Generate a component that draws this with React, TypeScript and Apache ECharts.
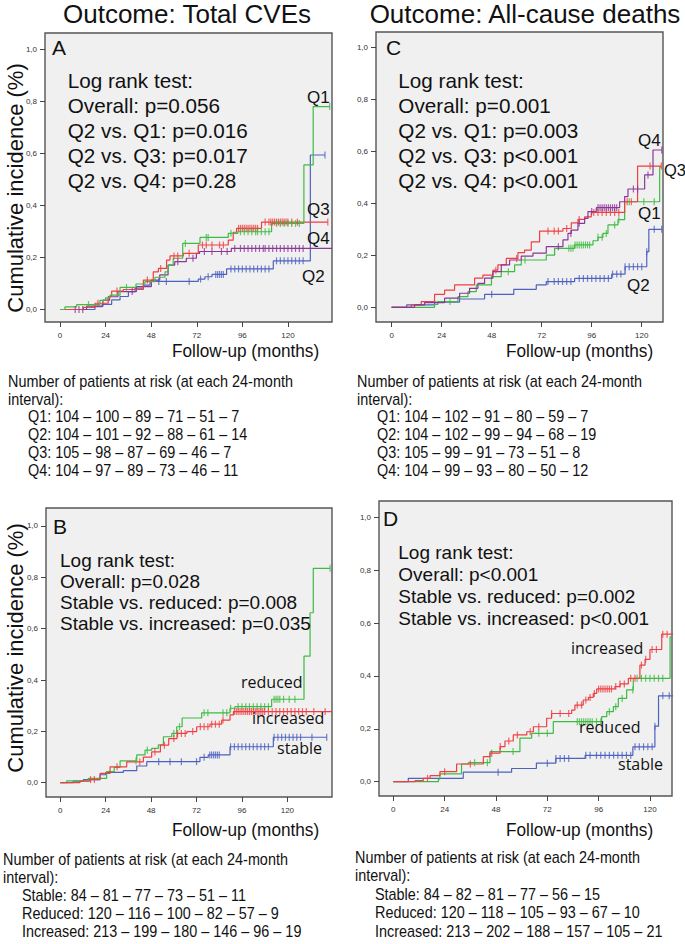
import React, { useEffect, useRef } from 'react';
import * as echarts from 'echarts';

// ---------- tick values ----------
const xTicks = [0, 24, 48, 72, 96, 120];
const yTicks = [0, 0.2, 0.4, 0.6, 0.8, 1.0];

// ---------- Panel A: Total CVEs by quartile ----------
const aQ1Times = [0, 2.6, 8.8, 21, 24, 26.3, 31.6, 40, 44.7, 50, 55.3, 57, 59.6, 64.6, 73.7, 88.6, 93.6, 111.4, 128.4, 133.3, 142];
const aQ1Values = [0, 0.01, 0.019, 0.035, 0.045, 0.055, 0.085, 0.098, 0.107, 0.124, 0.145, 0.171, 0.197, 0.254, 0.277, 0.293, 0.299, 0.331, 0.556, 0.78, 0.78];
const aQ1Censored = [15, 35, 66, 77, 78, 90, 95, 97, 99, 101, 103, 104, 106, 108, 110, 114, 116, 118, 120, 122, 124, 126, 142];

const aQ2Times = [0, 18.4, 22.2, 27.2, 31.6, 36, 39.5, 43.9, 47.4, 72.8, 76.3, 80, 87.7, 112.3, 131.8, 139.5];
const aQ2Values = [0, 0.011, 0.02, 0.037, 0.05, 0.069, 0.082, 0.094, 0.108, 0.117, 0.126, 0.135, 0.156, 0.187, 0.594, 0.594];
const aQ2Censored = [52, 56, 68, 74, 78, 82, 83, 84, 85, 86, 90, 92, 94, 96, 98, 100, 102, 104, 106, 108, 110, 114, 116, 118, 120, 122, 124, 126, 128, 139.5];

const aQ3Times = [0, 12.3, 18.4, 25.4, 27.2, 33.3, 43.9, 49.1, 51.8, 56.1, 57.9, 64.9, 72.8, 88.6, 91.2, 93, 106.1, 141];
const aQ3Values = [0, 0.008, 0.024, 0.05, 0.071, 0.077, 0.113, 0.145, 0.158, 0.19, 0.206, 0.216, 0.248, 0.267, 0.297, 0.312, 0.336, 0.336];
const aQ3Censored = [20, 30, 46, 53, 60, 62, 68, 75, 77, 80, 84, 86, 94, 95, 96, 97, 98, 99, 100, 101, 102, 103, 104, 108, 110, 111, 112, 113, 114, 115, 116, 117, 118, 119, 120, 122, 125, 141];

const aQ4Times = [0, 14, 22.6, 26.1, 30.5, 40.2, 48.1, 52.5, 56.9, 60.4, 66.5, 71.8, 73.5, 90.2, 143.2];
const aQ4Values = [0, 0.013, 0.036, 0.049, 0.069, 0.088, 0.113, 0.133, 0.171, 0.184, 0.197, 0.216, 0.223, 0.235, 0.235];
const aQ4Censored = [8, 10, 12, 38, 62, 70, 76, 80, 85, 88, 92, 95, 97, 99, 101, 103, 105, 107, 108, 110, 112, 114, 116, 118, 120, 122, 124, 126, 128];

// ---------- Panel C: All-cause deaths by quartile ----------
const cQ1Times = [0, 20.6, 22.2, 31.8, 36.6, 40.6, 47.9, 52.6, 59, 62.2, 74.2, 78.2, 87.8, 96.6, 99, 101.4, 103.8, 108.6, 111.8, 128.6, 129.4];
const cQ1Values = [0, 0.011, 0.022, 0.041, 0.06, 0.086, 0.118, 0.137, 0.163, 0.182, 0.201, 0.227, 0.24, 0.256, 0.269, 0.284, 0.317, 0.337, 0.406, 0.54, 0.54];
const cQ1Censored = [28, 56, 64, 85, 86, 87, 88, 89, 90, 91, 92, 93, 94, 95, 99, 101, 103, 107, 109, 114, 121, 126];

const cQ2Times = [0, 7.2, 20.6, 32.6, 44.6, 58.6, 69.4, 74.2, 87.8, 105.6, 112, 122.4, 123.4, 129.6];
const cQ2Values = [0, 0.009, 0.02, 0.032, 0.05, 0.069, 0.086, 0.099, 0.111, 0.128, 0.156, 0.214, 0.3, 0.3];
const cQ2Censored = [48, 75, 78, 80, 82, 84, 86, 90, 92, 94, 96, 98, 100, 102, 104, 106, 108, 110, 112, 114, 116, 118, 120, 122.4, 126, 129.6];

const cQ3Times = [0, 9.4, 14.2, 20.6, 25.4, 30.2, 39.8, 43.8, 48.6, 51, 55, 60.6, 63.8, 67, 71, 82.2, 86.2, 89.4, 92.6, 95.8, 111.8, 118, 129.4];
const cQ3Values = [0, 0.009, 0.022, 0.05, 0.066, 0.086, 0.112, 0.124, 0.143, 0.163, 0.188, 0.21, 0.22, 0.252, 0.293, 0.303, 0.325, 0.338, 0.348, 0.365, 0.406, 0.543, 0.543];
const cQ3Censored = [50, 60, 75, 78, 80, 84, 90, 97, 99, 101, 103, 105, 107, 109, 113, 115, 124, 129.4];

const cQ4Times = [0, 11, 15.8, 25.4, 32.6, 37.4, 41.4, 44.6, 48.6, 52.6, 56.6, 62.2, 67.8, 74.2, 82.2, 84.6, 86.2, 89.4, 92.6, 94.2, 98.2, 109.4, 111.8, 113.4, 121.4, 125.4, 129.6];
const cQ4Values = [0, 0.009, 0.018, 0.035, 0.054, 0.073, 0.092, 0.112, 0.137, 0.163, 0.182, 0.197, 0.208, 0.233, 0.259, 0.284, 0.297, 0.323, 0.342, 0.368, 0.383, 0.406, 0.426, 0.455, 0.509, 0.605, 0.605];
const cQ4Censored = [80, 86, 90, 96, 99, 100, 101, 102, 103, 104, 105, 106, 107, 108, 116, 118, 123, 129.6];

// ---------- Panel B: Total CVEs by change ----------
const bStableTimes = [0, 6.9, 12.2, 21, 24, 33.3, 40.4, 45.7, 73.8, 78.2, 89.7, 112.6, 140.8];
const bStableValues = [0, 0.006, 0.012, 0.031, 0.04, 0.047, 0.065, 0.082, 0.099, 0.108, 0.14, 0.177, 0.177];
const bStableCensored = [52, 58, 64, 72, 76, 79, 80, 81, 82, 83, 84, 90, 92, 94, 96, 98, 100, 102, 104, 106, 108, 110, 113, 115, 117, 119, 121, 123, 125, 127, 133, 140.8];

const bReducedTimes = [0, 3.4, 14.8, 24.5, 28.5, 31.6, 40.4, 44.8, 48.3, 51.8, 54.5, 58.9, 61.5, 64.4, 74.7, 89.7, 92.3, 111.7, 128.8, 132, 133.7, 142.6];
const bReducedValues = [0, 0.007, 0.017, 0.043, 0.06, 0.085, 0.108, 0.127, 0.134, 0.147, 0.179, 0.192, 0.218, 0.252, 0.272, 0.29, 0.296, 0.325, 0.493, 0.662, 0.835, 0.835];
const bReducedCensored = [40, 46, 60, 63, 76, 78, 86, 88, 90, 94, 96, 98, 100, 102, 104, 106, 108, 110, 113, 114, 115, 116, 118, 121, 124, 142.6];

const bIncreasedTimes = [0, 10.4, 15.7, 21, 26.3, 35.1, 43.9, 48.3, 52.9, 57.3, 61.7, 66.9, 72.1, 79.1, 85.3, 89.7, 91.5, 143.6];
const bIncreasedValues = [0, 0.006, 0.012, 0.036, 0.062, 0.081, 0.1, 0.12, 0.146, 0.172, 0.192, 0.199, 0.218, 0.228, 0.244, 0.264, 0.277, 0.277];
const bIncreasedCensored = [16, 18, 30, 42, 50, 55, 60, 62, 64, 66, 70, 74, 76, 78, 80, 82, 84, 86, 92, 93, 94, 95, 96, 97, 98, 99, 100, 101, 102, 103, 104, 105, 106, 107, 108, 110, 112, 114, 116, 118, 120, 122, 124, 126, 128, 130, 134, 140];

// ---------- Panel D: All-cause deaths by change ----------
const dStableTimes = [0, 7, 32.7, 55.3, 66.9, 76, 89.7, 112, 122.3, 124, 130.8];
const dStableValues = [0, 0.013, 0.036, 0.05, 0.07, 0.088, 0.1, 0.132, 0.21, 0.325, 0.325];
const dStableCensored = [49, 72, 76, 78, 80, 82, 90, 92, 95, 97, 99, 101, 103, 105, 107, 109, 111, 113, 115, 117, 119, 121, 122.3, 126, 129];

const dReducedTimes = [0, 21.1, 21.8, 31.9, 35.1, 45.2, 59.2, 64.7, 74.8, 97.4, 99.8, 102.9, 105.2, 109.1, 112.2, 129.4, 130.8];
const dReducedValues = [0, 0.01, 0.03, 0.067, 0.072, 0.114, 0.165, 0.183, 0.227, 0.246, 0.265, 0.284, 0.315, 0.347, 0.391, 0.548, 0.548];
const dReducedCensored = [38, 44, 56, 68, 72, 86, 87, 88, 89, 90, 91, 92, 93, 95, 97, 101, 104, 107, 112, 114, 116, 118, 120, 122, 124, 126];

const dIncreasedTimes = [0, 10.1, 14, 17.2, 21.8, 29.6, 42.1, 45.2, 49.9, 52.2, 56.1, 62.4, 65.5, 71.7, 74, 83.4, 84.9, 88.8, 91.2, 93.5, 95.1, 103.6, 106, 109.9, 115.3, 117.7, 120, 125.5, 130.8];
const dIncreasedValues = [0, 0.004, 0.013, 0.023, 0.038, 0.067, 0.095, 0.108, 0.133, 0.154, 0.177, 0.189, 0.208, 0.24, 0.258, 0.271, 0.29, 0.309, 0.319, 0.334, 0.351, 0.36, 0.37, 0.391, 0.441, 0.463, 0.5, 0.558, 0.558];
const dIncreasedCensored = [16, 24, 36, 46, 50, 54, 58, 64, 68, 74, 78, 82, 86, 88, 90, 92, 94, 96, 97, 98, 99, 100, 101, 102, 104, 106, 108, 111, 113, 116, 118, 121, 123, 126, 128];

// ---------- Texts ----------
const titleLeft = 'Outcome: Total CVEs';
const titleRight = 'Outcome: All-cause deaths';
const yTitle = 'Cumulative incidence (%)';
const xTitle = 'Follow-up (months)';
const riskHeader1 = 'Number of patients at risk (at each 24-month';
const riskHeader2 = 'interval):';

const logRankA = ['Log rank test:', 'Overall: p=0.056', 'Q2 vs. Q1: p=0.016', 'Q2 vs. Q3: p=0.017', 'Q2 vs. Q4: p=0.28'];
const logRankC = ['Log rank test:', 'Overall: p=0.001', 'Q2 vs. Q1: p=0.003', 'Q2 vs. Q3: p<0.001', 'Q2 vs. Q4: p<0.001'];
const logRankB = ['Log rank test:', 'Overall: p=0.028', 'Stable vs. reduced: p=0.008', 'Stable vs. increased: p=0.035'];
const logRankD = ['Log rank test:', 'Overall: p<0.001', 'Stable vs. reduced: p=0.002', 'Stable vs. increased: p<0.001'];

const riskA_Q1 = [104, 100, 89, 71, 51, 7];
const riskA_Q2 = [104, 101, 92, 88, 61, 14];
const riskA_Q3 = [105, 98, 87, 69, 46, 7];
const riskA_Q4 = [104, 97, 89, 73, 46, 11];
const riskC_Q1 = [104, 102, 91, 80, 59, 7];
const riskC_Q2 = [104, 102, 99, 94, 68, 19];
const riskC_Q3 = [105, 99, 91, 73, 51, 8];
const riskC_Q4 = [104, 99, 93, 80, 50, 12];
const riskB_Stable = [84, 81, 77, 73, 51, 11];
const riskB_Reduced = [120, 116, 100, 82, 57, 9];
const riskB_Increased = [213, 199, 180, 146, 96, 19];
const riskD_Stable = [84, 82, 81, 77, 56, 15];
const riskD_Reduced = [120, 118, 105, 93, 67, 10];
const riskD_Increased = [213, 202, 188, 157, 105, 21];

// ---------- colours ----------
const GREEN = '#3fbb44';
const RED = '#f03e42';
const BLUE = '#4e62bf';
const PURPLE = '#8b3797';

const ARIAL = '"Liberation Sans", Arial, sans-serif';
const CAL = '"Open Sans", "Noto Sans", sans-serif';

function stepAt(times: number[], values: number[], t: number) {
  let v = values[0];
  for (let i = 0; i < times.length; i++) {
    if (times[i] <= t + 1e-9) v = values[i];
    else break;
  }
  return v;
}

type Curve = { times: number[]; values: number[]; censored: number[]; color: string };

const panels = [
  {
    grid: { left: 45, top: 33, width: 287, height: 289 }, x: [-7.9, 143.2], y: [-0.048, 1.063],
    curves: [
      { times: aQ2Times, values: aQ2Values, censored: aQ2Censored, color: BLUE },
      { times: aQ4Times, values: aQ4Values, censored: aQ4Censored, color: PURPLE },
      { times: aQ3Times, values: aQ3Values, censored: aQ3Censored, color: RED },
      { times: aQ1Times, values: aQ1Values, censored: aQ1Censored, color: GREEN },
    ] as Curve[],
  },
  {
    grid: { left: 376, top: 32, width: 287, height: 290 }, x: [-7.5, 130.2], y: [-0.0565, 1.0588],
    curves: [
      { times: cQ2Times, values: cQ2Values, censored: cQ2Censored, color: BLUE },
      { times: cQ1Times, values: cQ1Values, censored: cQ1Censored, color: GREEN },
      { times: cQ3Times, values: cQ3Values, censored: cQ3Censored, color: RED },
      { times: cQ4Times, values: cQ4Values, censored: cQ4Censored, color: PURPLE },
    ] as Curve[],
  },
  {
    grid: { left: 46, top: 508, width: 286, height: 289 }, x: [-7.56, 143.6], y: [-0.0557, 1.07],
    curves: [
      { times: bStableTimes, values: bStableValues, censored: bStableCensored, color: BLUE },
      { times: bReducedTimes, values: bReducedValues, censored: bReducedCensored, color: GREEN },
      { times: bIncreasedTimes, values: bIncreasedValues, censored: bIncreasedCensored, color: RED },
    ] as Curve[],
  },
  {
    grid: { left: 379, top: 501, width: 293, height: 295 }, x: [-6.69, 130.3], y: [-0.054, 1.0617],
    curves: [
      { times: dStableTimes, values: dStableValues, censored: dStableCensored, color: BLUE },
      { times: dReducedTimes, values: dReducedValues, censored: dReducedCensored, color: GREEN },
      { times: dIncreasedTimes, values: dIncreasedValues, censored: dIncreasedCensored, color: RED },
    ] as Curve[],
  },
];

function txt(text: string, x: number, y: number, size: number, opts: any = {}) {
  const align = opts.align || 'left';
  return {
    type: 'text',
    x,
    y,
    rotation: opts.rotation || 0,
    scaleX: opts.scaleX || 1,
    z: 100,
    silent: true,
    style: {
      text,
      fill: opts.color || '#111',
      font: `${size}px ${opts.family || ARIAL}`,
      textAlign: align,
      textVerticalAlign: 'middle',
      align,
      verticalAlign: 'middle',
    },
  };
}

function riskLine(label: string, arr: number[]) {
  return `${label}: ${arr.join(' \u2013 ')}`;
}

function buildOption() {
  const grids: any[] = [];
  const xAxes: any[] = [];
  const yAxes: any[] = [];
  const series: any[] = [];

  panels.forEach((p, i) => {
    grids.push({
      ...p.grid,
      show: true,
      backgroundColor: '#f0f0f0',
      borderColor: '#555555',
      borderWidth: 1.4,
      containLabel: false,
    });
    xAxes.push({
      gridIndex: i,
      type: 'value',
      min: p.x[0],
      max: p.x[1],
      axisLine: { show: false, onZero: false },
      axisTick: { show: true, customValues: xTicks, length: 5, lineStyle: { color: '#444', width: 1 } },
      axisLabel: { customValues: xTicks, fontSize: 8, color: '#333', margin: 9, fontFamily: ARIAL },
      splitLine: { show: false },
    });
    yAxes.push({
      gridIndex: i,
      type: 'value',
      min: p.y[0],
      max: p.y[1],
      axisLine: { show: false, onZero: false },
      axisTick: { show: true, customValues: yTicks, length: 5, lineStyle: { color: '#444', width: 1 } },
      axisLabel: {
        customValues: yTicks,
        fontSize: 8,
        color: '#333',
        margin: 8,
        fontFamily: ARIAL,
        formatter: (v: number) => v.toFixed(1).replace('.', ','),
      },
      splitLine: { show: false },
    });
    p.curves.forEach((c) => {
      series.push({
        type: 'line',
        xAxisIndex: i,
        yAxisIndex: i,
        data: c.times.map((t, k) => [t, c.values[k]]),
        step: 'end',
        symbol: 'none',
        showSymbol: false,
        silent: true,
        lineStyle: { color: c.color, width: 1.2 },
        itemStyle: { color: c.color },
        z: 2,
      });
      series.push({
        type: 'scatter',
        xAxisIndex: i,
        yAxisIndex: i,
        data: c.censored.map((t) => [t, stepAt(c.times, c.values, t)]),
        symbol: 'rect',
        symbolSize: [1.2, 7],
        silent: true,
        itemStyle: { color: c.color },
        z: 3,
      });
    });
  });

  const g: any[] = [];
  // titles
  g.push(txt(titleLeft, 187, 14, 26, { align: 'center' }));
  g.push(txt(titleRight, 525, 14, 26, { align: 'center' }));
  // y titles
  g.push(txt(yTitle, 15, 188, 22, { align: 'center', rotation: Math.PI / 2 }));
  g.push(txt(yTitle, 15, 648, 22, { align: 'center', rotation: Math.PI / 2 }));
  // x titles
  g.push(txt(xTitle, 172, 351, 18.5, { scaleX: 0.93 }));
  g.push(txt(xTitle, 506, 351, 18.5, { scaleX: 0.93 }));
  g.push(txt(xTitle, 172, 830, 18.5, { scaleX: 0.93 }));
  g.push(txt(xTitle, 506, 830, 18.5, { scaleX: 0.93 }));
  // panel letters
  g.push(txt('A', 52, 47, 21));
  g.push(txt('C', 386, 47, 21));
  g.push(txt('B', 53, 526, 21));
  g.push(txt('D', 383, 518, 21));
  // log rank blocks
  logRankA.forEach((s, k) => g.push(txt(s, 67.7, 80 + k * 25, 20.7)));
  logRankC.forEach((s, k) => g.push(txt(s, 398.3, 80 + k * 25, 20.7)));
  logRankB.forEach((s, k) => g.push(txt(s, 60, 560 + k * 21, 19)));
  logRankD.forEach((s, k) => g.push(txt(s, 398.3, 552 + k * 22, 19)));
  // curve labels
  g.push(txt('Q1', 307, 97, 17));
  g.push(txt('Q3', 307, 209, 17));
  g.push(txt('Q4', 307, 238, 17));
  g.push(txt('Q2', 302, 276, 17));
  g.push(txt('Q4', 638, 140, 17));
  g.push(txt('Q3', 664, 170, 16.5));
  g.push(txt('Q1', 638, 213, 17));
  g.push(txt('Q2', 627, 285, 17));
  g.push(txt('reduced', 241, 682, 16, { family: CAL }));
  g.push(txt('increased', 252, 718, 16, { family: CAL }));
  g.push(txt('stable', 277, 748, 16, { family: CAL }));
  g.push(txt('increased', 571, 648, 16, { family: CAL }));
  g.push(txt('reduced', 579, 727, 16, { family: CAL }));
  g.push(txt('stable', 618, 764, 16, { family: CAL }));
  // risk tables
  const rA = [riskLine('Q1', riskA_Q1), riskLine('Q2', riskA_Q2), riskLine('Q3', riskA_Q3), riskLine('Q4', riskA_Q4)];
  const rC = [riskLine('Q1', riskC_Q1), riskLine('Q2', riskC_Q2), riskLine('Q3', riskC_Q3), riskLine('Q4', riskC_Q4)];
  const rB = [riskLine('Stable', riskB_Stable), riskLine('Reduced', riskB_Reduced), riskLine('Increased', riskB_Increased)];
  const rD = [riskLine('Stable', riskD_Stable), riskLine('Reduced', riskD_Reduced), riskLine('Increased', riskD_Increased)];

  const block = (x: number, indent: number, y0: number, step: number, lines: string[]) => {
    const o = { scaleX: 0.9 };
    g.push(txt(riskHeader1, x, y0, 16, o));
    g.push(txt(riskHeader2, x, y0 + step, 16, o));
    lines.forEach((s, k) => g.push(txt(s, indent, y0 + step * (k + 2), 16, o)));
  };
  block(8, 28, 381, 17.8, rA);
  block(357, 377, 381, 17.8, rC);
  block(3, 22, 859.5, 18, rB);
  block(355, 375, 857, 18.5, rD);

  return {
    animation: false,
    backgroundColor: '#ffffff',
    grid: grids,
    xAxis: xAxes,
    yAxis: yAxes,
    series,
    graphic: { elements: g },
  };
}

export default function App() {
  const ref = useRef<HTMLDivElement>(null);
  useEffect(() => {
    if (!ref.current) return;
    const chart = echarts.init(ref.current, undefined, { renderer: 'svg' });
    chart.setOption(buildOption() as any);
    return () => chart.dispose();
  }, []);
  return (
    <div
      ref={ref}
      style={{ position: 'absolute', left: 0, top: 0, width: 685, height: 944, background: '#fff' }}
    />
  );
}
